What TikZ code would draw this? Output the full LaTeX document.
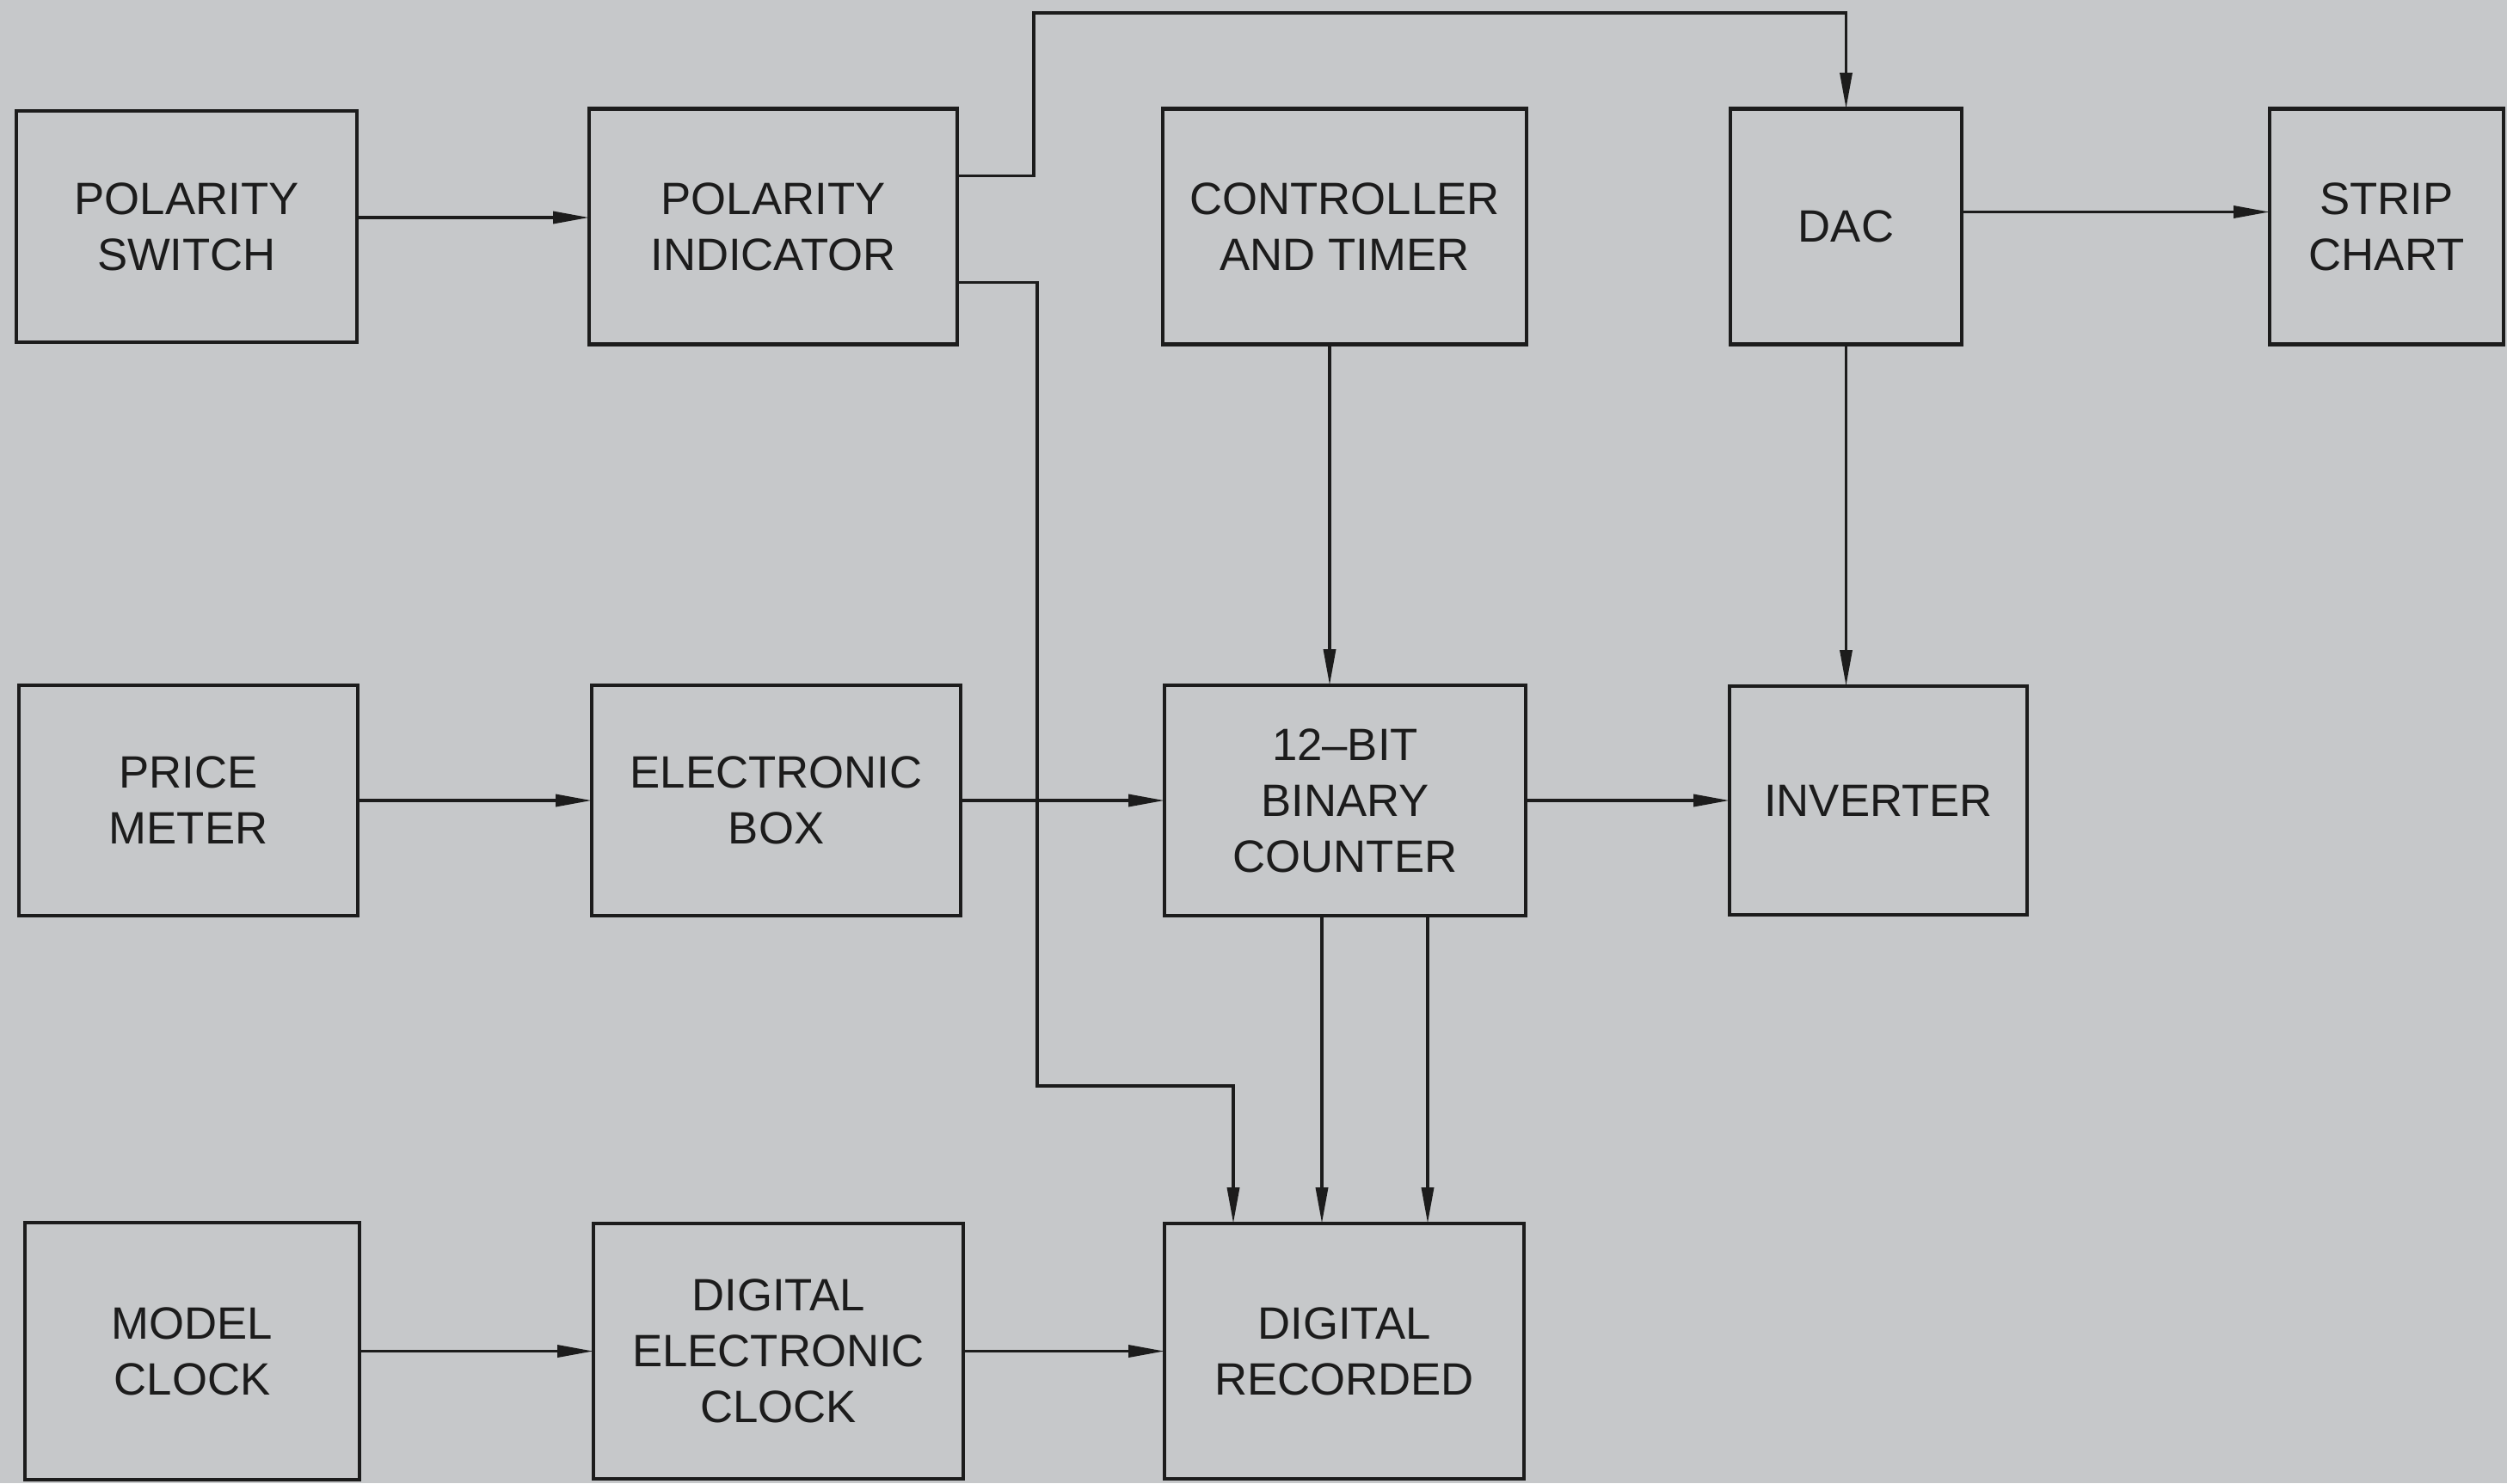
\documentclass[tikz,border=0pt]{standalone}
\usepackage{fontspec}
\setmainfont{Liberation Sans}
\usetikzlibrary{arrows.meta,positioning,calc}
\definecolor{papergray}{RGB}{198,200,202}
\definecolor{inkblack}{RGB}{28,28,28}

\begin{document}
\begin{tikzpicture}[
  font=\fontsize{15}{18.5}\selectfont,
  box/.style={draw=inkblack, line width=1.3pt, align=center, inner sep=0pt,
    outer sep=0pt, text=inkblack, minimum height=27.4mm},
  arrow/.style={-{Triangle[length=4.2mm,width=1.4mm]}, line width=1pt, draw=inkblack}
]
\fill[papergray] (0,0) rectangle (29.15,-17.25);
\useasboundingbox (0,0) rectangle (29.15,-17.25);

\node[box, minimum width=39.6mm, minimum height=26.9mm] (polswitch) at (2.17,-2.635) {POLARITY\\SWITCH};
\node[box, minimum width=42.8mm, right=27mm of polswitch] (polind) {POLARITY\\INDICATOR};
\node[box, minimum width=42.3mm, right=23.9mm of polind] (ctrl) {CONTROLLER\\AND TIMER};
\node[box, minimum width=26.9mm, right=23.7mm of ctrl] (dac) {DAC};
\node[box, minimum width=27.2mm, right=35.8mm of dac] (strip) {STRIP\\CHART};

\node[box, minimum width=39.4mm, minimum height=26.8mm] (price) at (2.19,-9.31) {PRICE\\METER};
\node[box, minimum width=42.9mm, minimum height=26.8mm, right=27.2mm of price] (ebox) {ELECTRONIC\\BOX};
\node[box, minimum width=42mm, minimum height=26.8mm, right=23.7mm of ebox] (counter) {12--BIT\\BINARY\\COUNTER};
\node[box, minimum width=34.6mm, minimum height=26.6mm, right=23.7mm of counter] (inverter) {INVERTER};

\node[box, minimum width=38.9mm, minimum height=29.9mm] (mclock) at (2.235,-15.715) {MODEL\\CLOCK};
\node[box, minimum width=43mm, minimum height=29.7mm, right=27.2mm of mclock] (dclock) {DIGITAL\\ELECTRONIC\\CLOCK};
\node[box, minimum width=41.8mm, minimum height=29.7mm, right=23.4mm of dclock] (recorder) {DIGITAL\\RECORDED};

\coordinate (topbus) at (12.02,-0.15);
\coordinate (sidebus) at (12.06,-12.63);

\draw[arrow] ([yshift=1.05mm]polswitch.east) -- ([yshift=1.05mm]polswitch.east -| polind.west);
\draw[arrow] ([yshift=5.9mm]polind.east) -| (topbus) -| (dac.north);
\draw[arrow] ([yshift=-6.5mm]polind.east) -| (sidebus) -| ([xshift=8mm]recorder.north west);
\draw[arrow] ([xshift=-1.75mm]ctrl.south) -- ([xshift=-1.75mm]ctrl.south |- counter.north);
\draw[arrow] ([yshift=1.7mm]dac.east) -- ([yshift=1.7mm]dac.east -| strip.west);
\draw[arrow] (dac.south) -- (dac.south |- inverter.north);
\draw[arrow] (price) -- (ebox);
\draw[arrow] (ebox) -- (counter);
\draw[arrow] (counter) -- (inverter);
\draw[arrow] ([xshift=-2.7mm]counter.south) -- ([xshift=-2.7mm]counter.south |- recorder.north);
\draw[arrow] ([xshift=9.6mm]counter.south) -- ([xshift=9.6mm]counter.south |- recorder.north);
\draw[arrow] (mclock) -- (dclock);
\draw[arrow] (dclock) -- (recorder);
\end{tikzpicture}
\end{document}
